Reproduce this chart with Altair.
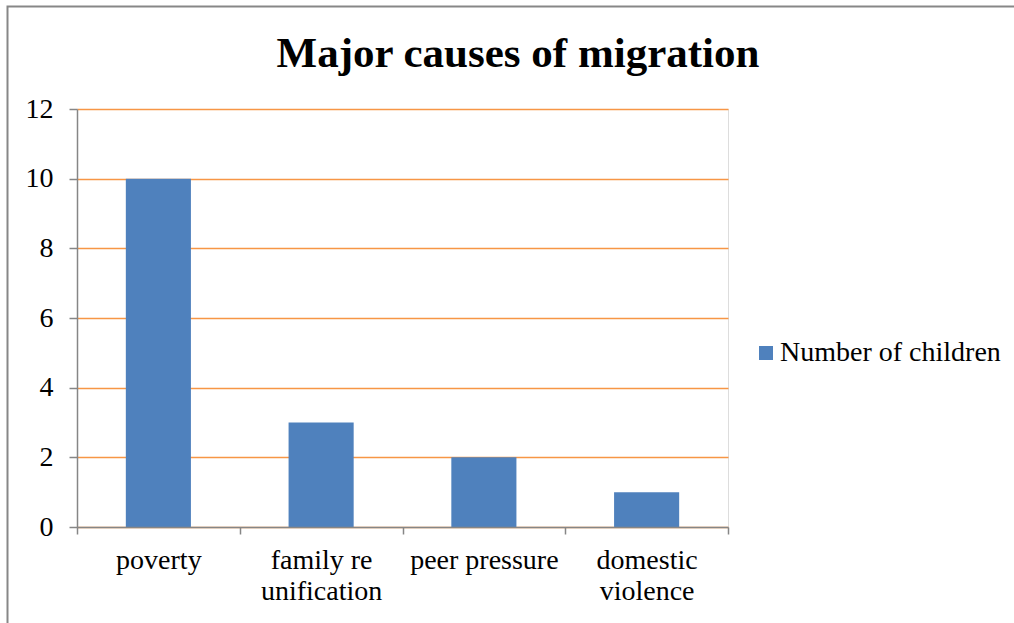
import altair as alt
import pandas as pd

# Bar chart: major causes of migration (number of children per cause)
causes = ["poverty", "family re\nunification", "peer pressure", "domestic\nviolence"]
children = [10, 3, 2, 1]
series_name = "Number of children"
chart_title = "Major causes of migration"
y_ticks = [0, 2, 4, 6, 8, 10, 12]

SERIF = "Liberation Serif"
BAR_BLUE = "#4F81BD"
GRID_ORANGE = "#F79646"
AXIS_GREY = "#868686"

df = pd.DataFrame({"cause": causes, "children": children, "series": series_name})

bars = (
    alt.Chart(df)
    .mark_bar(width={"band": 0.4}, color=BAR_BLUE)
    .encode(
        x=alt.X(
            "cause:N",
            sort=causes,
            title=None,
            scale=alt.Scale(paddingInner=0, paddingOuter=0),
            axis=alt.Axis(
                labelExpr="split(datum.label, '\\n')",
                labelAngle=0,
                labelFont=SERIF,
                labelFontSize=28,
                labelColor="black",
                labelLineHeight=31,
                labelPadding=12,
                labelBaseline="top",
                tickBand="extent",
                tickSize=7,
                tickColor=AXIS_GREY,
                tickWidth=1.5,
                domainColor=AXIS_GREY,
                domainWidth=1.5,
                grid=False,
                zindex=1,
            ),
        ),
        y=alt.Y(
            "children:Q",
            title=None,
            scale=alt.Scale(domain=[0, 12], nice=False),
            axis=alt.Axis(
                values=y_ticks,
                labelFont=SERIF,
                labelFontSize=28,
                labelColor="black",
                labelPadding=16,
                tickSize=8,
                tickColor=AXIS_GREY,
                tickWidth=1.5,
                domainColor=AXIS_GREY,
                domainWidth=1.5,
                gridColor=GRID_ORANGE,
                gridWidth=1.5,
            ),
        ),
        color=alt.Color(
            "series:N",
            scale=alt.Scale(range=[BAR_BLUE]),
            legend=alt.Legend(
                title=None,
                orient="none",
                legendX=675,
                legendY=230,
                symbolType="square",
                symbolSize=196,
                symbolStrokeWidth=0,
                labelOffset=0,
                labelFont=SERIF,
                labelFontSize=28,
                labelColor="black",
                labelLimit=400,
            ),
        ),
    )
)

# Chart heading, centred over the plot and legend
heading = (
    alt.Chart(alt.Data(values=[{"t": chart_title}]))
    .mark_text(
        font=SERIF,
        fontSize=43,
        fontWeight="bold",
        color="black",
        align="center",
        baseline="alphabetic",
    )
    .encode(text="t:N", x=alt.value(441), y=alt.value(-42))
)

# Thin grey frame around the whole chart
frame = (
    alt.Chart(alt.Data(values=[{"k": 1}]))
    .mark_rect(fill=None, stroke="#878787", strokeWidth=2)
    .encode(
        x=alt.value(-69.5),
        x2=alt.value(960),
        y=alt.value(-102.5),
        y2=alt.value(560),
    )
)

chart = (
    alt.layer(frame, heading, bars)
    .properties(
        width=651,
        height=418,
        padding={"left": 77, "top": 109, "right": 286, "bottom": 96},
        autosize=alt.AutoSizeParams(type="none"),
    )
    .configure_view(stroke=None)
    .configure(background="white")
)

chart.save("out.html", embed_options={"renderer": "svg", "actions": False})
